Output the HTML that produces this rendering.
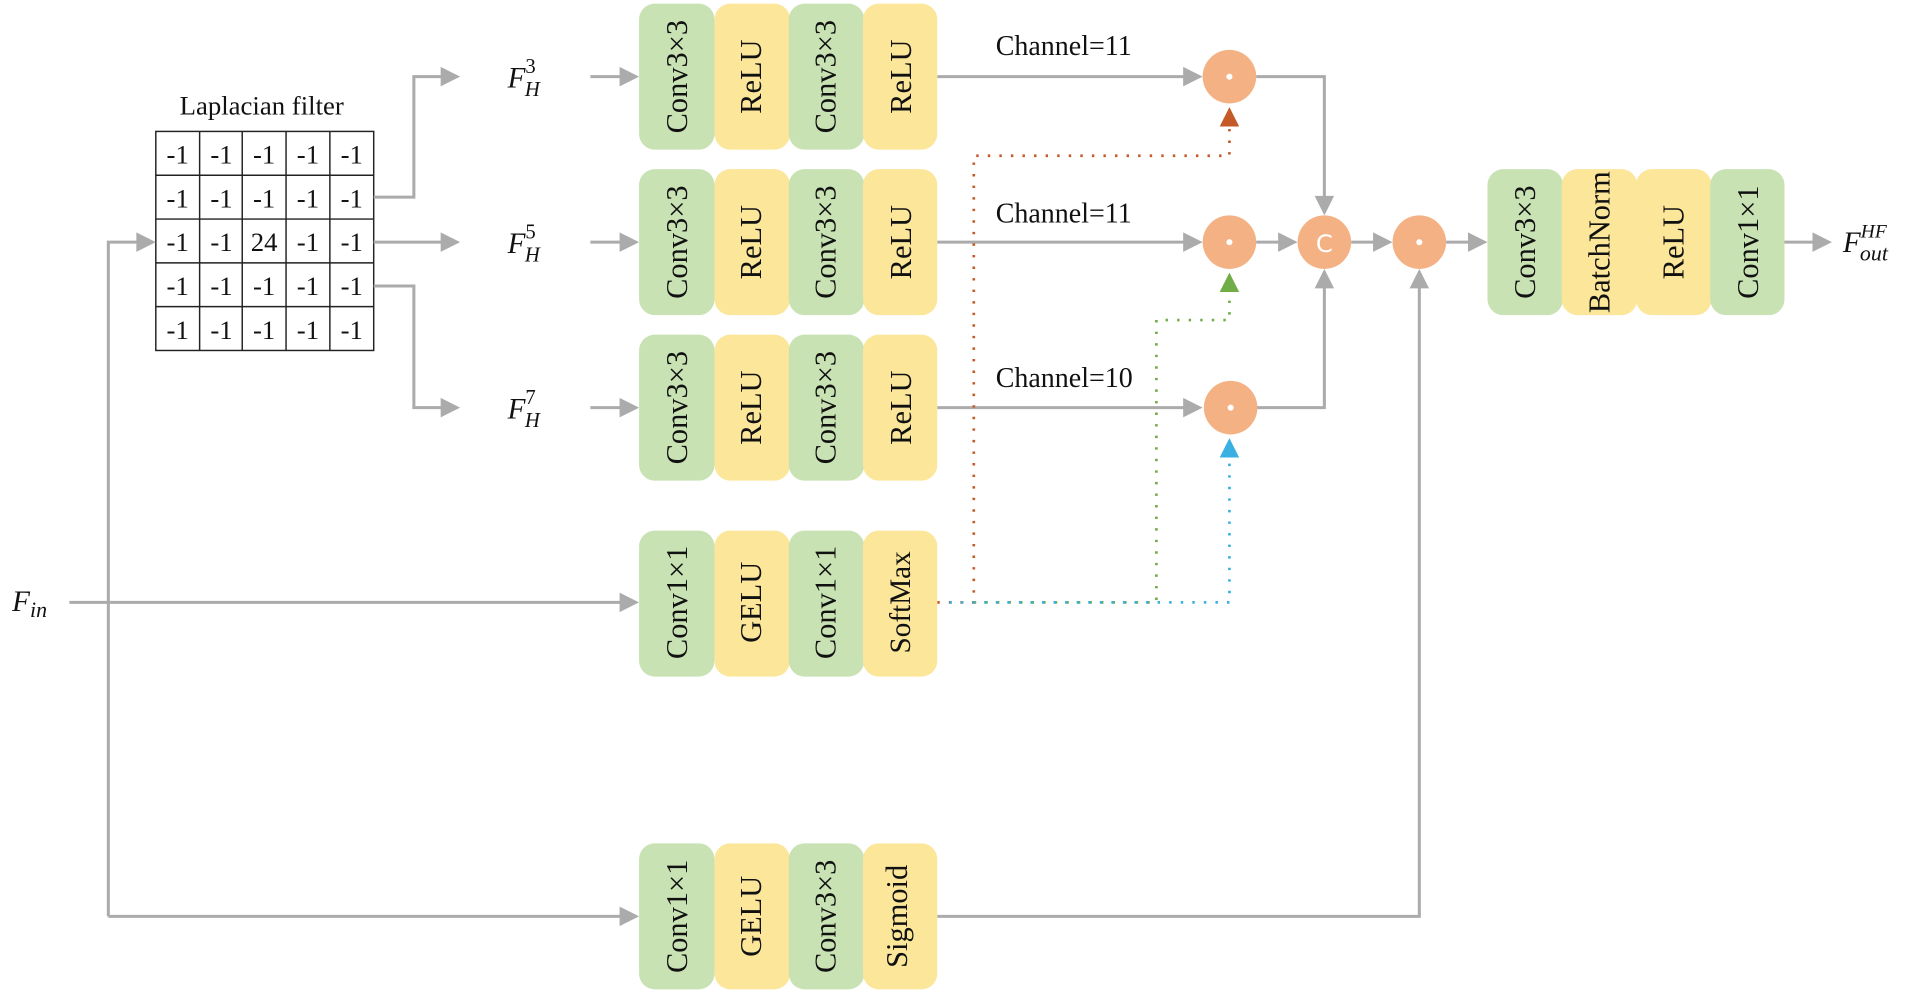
<!DOCTYPE html>
<html><head><meta charset="utf-8"><style>
html,body{margin:0;padding:0;background:#fff;}
svg{display:block;}
text{font-family:"Liberation Serif",serif;fill:#111;}
.bt{font-size:25px;text-anchor:middle;dominant-baseline:central;}
.g{fill:#c8e2b4;} .y{fill:#fbe69a;}
.ln{stroke:#ababab;stroke-width:2.5;fill:none;}
.ah{fill:#ababab;}
.cell{fill:#fff;stroke:#222;stroke-width:1.2;}
.ct{font-size:22px;text-anchor:middle;dominant-baseline:central;}
.ci{fill:#f4b183;}
</style></head><body>
<svg width="1905" height="993" viewBox="0 0 1565 816" preserveAspectRatio="none" xmlns="http://www.w3.org/2000/svg">

<!-- Laplacian -->
<text x="215" y="94" font-size="22" text-anchor="middle">Laplacian filter</text>
<g>
<rect class="cell" x="128" y="108" width="179" height="180"/>
<line x1="164" y1="108" x2="164" y2="288" stroke="#222" stroke-width="1.2"/>
<line x1="199" y1="108" x2="199" y2="288" stroke="#222" stroke-width="1.2"/>
<line x1="235" y1="108" x2="235" y2="288" stroke="#222" stroke-width="1.2"/>
<line x1="271" y1="108" x2="271" y2="288" stroke="#222" stroke-width="1.2"/>
<line x1="128" y1="144" x2="307" y2="144" stroke="#222" stroke-width="1.2"/>
<line x1="128" y1="180" x2="307" y2="180" stroke="#222" stroke-width="1.2"/>
<line x1="128" y1="216" x2="307" y2="216" stroke="#222" stroke-width="1.2"/>
<line x1="128" y1="252" x2="307" y2="252" stroke="#222" stroke-width="1.2"/>
</g>
<g class="ct">
<text class="ct" x="146" y="127">-1</text><text class="ct" x="182" y="127">-1</text><text class="ct" x="217" y="127">-1</text><text class="ct" x="253" y="127">-1</text><text class="ct" x="289" y="127">-1</text>
<text class="ct" x="146" y="163">-1</text><text class="ct" x="182" y="163">-1</text><text class="ct" x="217" y="163">-1</text><text class="ct" x="253" y="163">-1</text><text class="ct" x="289" y="163">-1</text>
<text class="ct" x="146" y="199">-1</text><text class="ct" x="182" y="199">-1</text><text class="ct" x="217" y="199">24</text><text class="ct" x="253" y="199">-1</text><text class="ct" x="289" y="199">-1</text>
<text class="ct" x="146" y="235">-1</text><text class="ct" x="182" y="235">-1</text><text class="ct" x="217" y="235">-1</text><text class="ct" x="253" y="235">-1</text><text class="ct" x="289" y="235">-1</text>
<text class="ct" x="146" y="271">-1</text><text class="ct" x="182" y="271">-1</text><text class="ct" x="217" y="271">-1</text><text class="ct" x="253" y="271">-1</text><text class="ct" x="289" y="271">-1</text>
</g>

<!-- gray lines -->
<polyline class="ln" points="307,162 340,162 340,63 365,63"/>
<polygon class="ah" points="378,63 362,55 362,71"/>
<polyline class="ln" points="307,199 365,199"/>
<polygon class="ah" points="378,199 362,191 362,207"/>
<polyline class="ln" points="307,235 340,235 340,335 365,335"/>
<polygon class="ah" points="378,335 362,327 362,343"/>

<polyline class="ln" points="89,753 89,199 115,199"/>
<polygon class="ah" points="128,199 112,191 112,207"/>
<polyline class="ln" points="89,753 512,753"/>
<polygon class="ah" points="525,753 509,745 509,761"/>
<polyline class="ln" points="57,495 512,495"/>
<polygon class="ah" points="525,495 509,487 509,503"/>

<polyline class="ln" points="485,63 512,63"/><polygon class="ah" points="525,63 509,55 509,71"/>
<polyline class="ln" points="485,199 512,199"/><polygon class="ah" points="525,199 509,191 509,207"/>
<polyline class="ln" points="485,335 512,335"/><polygon class="ah" points="525,335 509,327 509,343"/>

<polyline class="ln" points="770,63 973,63"/><polygon class="ah" points="988,63 972,55 972,71"/>
<polyline class="ln" points="770,199 973,199"/><polygon class="ah" points="988,199 972,191 972,207"/>
<polyline class="ln" points="770,335 973,335"/><polygon class="ah" points="988,335 972,327 972,343"/>

<polyline class="ln" points="1032,63 1088,63 1088,162"/><polygon class="ah" points="1088,177 1080,161 1096,161"/>
<polyline class="ln" points="1032,335 1088,335 1088,236"/><polygon class="ah" points="1088,221 1080,237 1096,237"/>
<polyline class="ln" points="1032,199 1052,199"/><polygon class="ah" points="1066,199 1050,191 1050,207"/>
<polyline class="ln" points="1110,199 1130,199"/><polygon class="ah" points="1144,199 1128,191 1128,207"/>
<polyline class="ln" points="1188,199 1208,199"/><polygon class="ah" points="1222,199 1206,191 1206,207"/>
<polyline class="ln" points="770,753 1166,753 1166,236"/><polygon class="ah" points="1166,221 1158,237 1174,237"/>
<polyline class="ln" points="1466,199 1490,199"/><polygon class="ah" points="1505,199 1489,191 1489,207"/>

<!-- dotted -->
<polyline points="770,495 800,495 800,128 1010,128 1010,106" fill="none" stroke="#c55a28" stroke-width="2.2" stroke-dasharray="2 7.5"/>
<polygon points="1010,88 1002,104 1018,104" fill="#c55a28"/>
<polyline points="800,495 950,495 950,263 1010,263 1010,242" fill="none" stroke="#70ad47" stroke-width="2.2" stroke-dasharray="2 7.5"/>
<polygon points="1010,224 1002,240 1018,240" fill="#70ad47"/>
<polyline points="780,495 1010,495 1010,378" fill="none" stroke="#3ab0e2" stroke-width="2.2" stroke-dasharray="2 7.5"/>
<polygon points="1010,360 1002,376 1018,376" fill="#3ab0e2"/>

<!-- circles -->
<circle class="ci" cx="1010" cy="63" r="22"/><circle cx="1010" cy="63" r="2.5" fill="#fff"/>
<circle class="ci" cx="1010" cy="199" r="22"/><circle cx="1010" cy="199" r="2.5" fill="#fff"/>
<circle class="ci" cx="1011" cy="335" r="22"/><circle cx="1011" cy="335" r="2.5" fill="#fff"/>
<circle class="ci" cx="1088" cy="199" r="22"/>
<text x="1088" y="200" font-size="20" text-anchor="middle" dominant-baseline="central" style="fill:#fff;font-family:'DejaVu Sans',sans-serif">C</text>
<circle class="ci" cx="1166" cy="199" r="22"/><circle cx="1166" cy="199" r="2.5" fill="#fff"/>

<!-- Channel labels -->
<text x="818" y="45" font-size="23">Channel=11</text>
<text x="818" y="183" font-size="23">Channel=11</text>
<text x="818" y="318" font-size="23">Channel=10</text>

<!-- F labels -->
<text x="417" y="72" font-size="24" font-style="italic">F<tspan font-size="17" dy="-12" font-style="normal">3</tspan><tspan font-size="17" dx="-9" dy="19">H</tspan></text>
<text x="417" y="208" font-size="24" font-style="italic">F<tspan font-size="17" dy="-12" font-style="normal">5</tspan><tspan font-size="17" dx="-9" dy="19">H</tspan></text>
<text x="417" y="344" font-size="24" font-style="italic">F<tspan font-size="17" dy="-12" font-style="normal">7</tspan><tspan font-size="17" dx="-9" dy="19">H</tspan></text>
<text x="10" y="502" font-size="24" font-style="italic">F<tspan font-size="18" dy="5">in</tspan></text>
<text x="1514" y="207" font-size="24" font-style="italic">F<tspan font-size="16" dy="-12">HF</tspan><tspan font-size="18" dx="-22" dy="19">out</tspan></text>

<!-- block rows -->
<g>
<rect class="g" x="525" y="3" width="62" height="120" rx="13"/><rect class="y" x="587" y="3" width="62" height="120" rx="13"/><rect class="g" x="648" y="3" width="62" height="120" rx="13"/><rect class="y" x="709" y="3" width="61" height="120" rx="13"/>
<rect class="g" x="525" y="139" width="62" height="120" rx="13"/><rect class="y" x="587" y="139" width="62" height="120" rx="13"/><rect class="g" x="648" y="139" width="62" height="120" rx="13"/><rect class="y" x="709" y="139" width="61" height="120" rx="13"/>
<rect class="g" x="525" y="275" width="62" height="120" rx="13"/><rect class="y" x="587" y="275" width="62" height="120" rx="13"/><rect class="g" x="648" y="275" width="62" height="120" rx="13"/><rect class="y" x="709" y="275" width="61" height="120" rx="13"/>
<rect class="g" x="525" y="436" width="62" height="120" rx="13"/><rect class="y" x="587" y="436" width="62" height="120" rx="13"/><rect class="g" x="648" y="436" width="62" height="120" rx="13"/><rect class="y" x="709" y="436" width="61" height="120" rx="13"/>
<rect class="g" x="525" y="693" width="62" height="120" rx="13"/><rect class="y" x="587" y="693" width="62" height="120" rx="13"/><rect class="g" x="648" y="693" width="62" height="120" rx="13"/><rect class="y" x="709" y="693" width="61" height="120" rx="13"/>
<rect class="g" x="1222" y="139" width="62" height="120" rx="13"/><rect class="y" x="1283" y="139" width="62" height="120" rx="13"/><rect class="y" x="1344" y="139" width="62" height="120" rx="13"/><rect class="g" x="1405" y="139" width="61" height="120" rx="13"/>
</g>
<g class="bt">
<text class="bt" transform="translate(556,63) rotate(-90)">Conv3×3</text>
<text class="bt" transform="translate(617,63) rotate(-90)">ReLU</text>
<text class="bt" transform="translate(678,63) rotate(-90)">Conv3×3</text>
<text class="bt" transform="translate(740,63) rotate(-90)">ReLU</text>
<text class="bt" transform="translate(556,199) rotate(-90)">Conv3×3</text>
<text class="bt" transform="translate(617,199) rotate(-90)">ReLU</text>
<text class="bt" transform="translate(678,199) rotate(-90)">Conv3×3</text>
<text class="bt" transform="translate(740,199) rotate(-90)">ReLU</text>
<text class="bt" transform="translate(556,335) rotate(-90)">Conv3×3</text>
<text class="bt" transform="translate(617,335) rotate(-90)">ReLU</text>
<text class="bt" transform="translate(678,335) rotate(-90)">Conv3×3</text>
<text class="bt" transform="translate(740,335) rotate(-90)">ReLU</text>
<text class="bt" transform="translate(556,495) rotate(-90)">Conv1×1</text>
<text class="bt" transform="translate(617,495) rotate(-90)">GELU</text>
<text class="bt" transform="translate(678,495) rotate(-90)">Conv1×1</text>
<text class="bt" style="font-size:24px" transform="translate(740,495) rotate(-90)">SoftMax</text>
<text class="bt" transform="translate(556,753) rotate(-90)">Conv1×1</text>
<text class="bt" transform="translate(617,753) rotate(-90)">GELU</text>
<text class="bt" transform="translate(678,753) rotate(-90)">Conv3×3</text>
<text class="bt" style="font-size:25px" transform="translate(737,753) rotate(-90)">Sigmoid</text>
<text class="bt" transform="translate(1253,199) rotate(-90)">Conv3×3</text>
<text class="bt" style="font-size:25px" transform="translate(1314,199) rotate(-90)">BatchNorm</text>
<text class="bt" transform="translate(1375,199) rotate(-90)">ReLU</text>
<text class="bt" transform="translate(1436,199) rotate(-90)">Conv1×1</text>
</g>
</svg>
</body></html>
